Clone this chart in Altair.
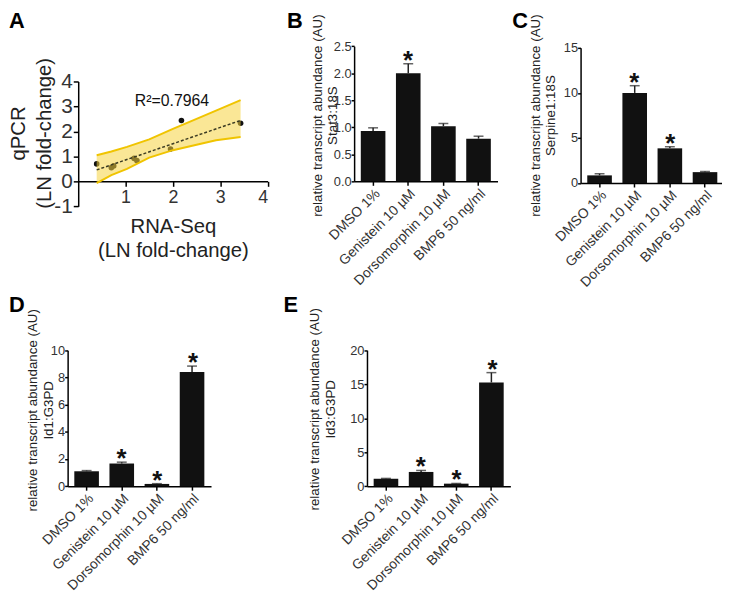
import altair as alt
import pandas as pd

FONT = "Liberation Sans"
INK = "#111111"
LABEL = "#333333"

# ---------------- Panel A data ----------------
rna_seq = [0.39, 0.70, 0.75, 1.18, 1.24, 1.95, 2.18, 3.43]
qpcr = [0.70, 0.55, 0.62, 0.92, 0.83, 1.30, 2.44, 2.33]
fit_x = [0.39, 3.43]
fit_y = [0.46, 2.44]
band_x = [0.39, 0.70, 1.03, 1.50, 2.00, 2.50, 2.91, 3.43]
band_hi = [1.05, 1.20, 1.38, 1.68, 2.10, 2.50, 2.83, 3.25]
band_lo = [-0.07, 0.25, 0.50, 0.95, 1.25, 1.47, 1.65, 1.78]
r2_text = "R\u00b2=0.7964"
a_xticks = [1, 2, 3, 4]
a_yticks = [-1, 0, 1, 2, 3, 4]

# ---------------- Bar panels data ----------------
treatments = ["DMSO 1%", "Genistein 10 \u00b5M", "Dorsomorphin 10 \u00b5M", "BMP6 50 ng/ml"]
panel_letters = ["A", "B", "C", "D", "E"]

stat3 = [0.93, 2.00, 1.02, 0.79]
stat3_err = [0.06, 0.175, 0.05, 0.045]
stat3_sig = [False, True, False, False]
stat3_ticks = [0, 0.5, 1.0, 1.5, 2.0, 2.5]

serpine1 = [0.85, 10.0, 3.85, 1.21]
serpine1_err = [0.18, 0.80, 0.18, 0.07]
serpine1_sig = [False, True, True, False]
serpine1_ticks = [0, 5, 10, 15]

id1 = [1.10, 1.67, 0.17, 8.40]
id1_err = [0.05, 0.10, 0.02, 0.43]
id1_sig = [False, True, True, True]
id1_ticks = [0, 2, 4, 6, 8, 10]

id3 = [1.10, 2.10, 0.38, 15.25]
id3_err = [0.05, 0.22, 0.03, 1.45]
id3_sig = [False, True, True, True]
id3_ticks = [0, 5, 10, 15, 20]

# whole figure is one view; every panel gets its own scales with pixel ranges
W, H = 722, 589

AX = dict(
    grid=False,
    domainColor="#000000",
    domainWidth=1.5,
    tickColor="#000000",
    tickWidth=1.5,
    labelColor=LABEL,
    labelFont=FONT,
    titleFont=FONT,
    titleColor="#222222",
    titleFontWeight="normal",
)

layers = []

# ---------------- Panel A ----------------
pts_df = pd.DataFrame({"x": rna_seq, "y": qpcr})
fit_df = pd.DataFrame({"x": fit_x, "y": fit_y})
band_df = pd.DataFrame({"x": band_x, "lo": band_lo, "hi": band_hi})

A_XR = [71, 262.5]
A_YR = [197.3, 71]
A_XAXIS_Y = 172


def xs_a():
    return alt.Scale(domain=[0, 4], range=A_XR, nice=False, zero=False)


def ys_a():
    return alt.Scale(domain=[-1, 4], range=A_YR, nice=False, zero=False)


xA = alt.X(
    "x:Q", scale=xs_a(),
    axis=alt.Axis(orient="bottom", offset=-(H - A_XAXIS_Y), values=a_xticks,
                  title=["RNA-Seq", "(LN fold-change)"], labelFontSize=18, titleFontSize=20.5,
                  titleLineHeight=24, titleBaseline="alphabetic", titleY=52,
                  tickSize=5, labelPadding=2, **AX),
)
yA = alt.Y(
    "y:Q", scale=ys_a(),
    axis=alt.Axis(orient="left", offset=-A_XR[0], values=a_yticks,
                  labelExpr="replace(datum.label, '\u2212', '-')",
                  title=["qPCR", "(LN fold-change)"], labelFontSize=21, titleFontSize=20.5,
                  titleLineHeight=26, titleBaseline="alphabetic", titleX=-54, titleY=123,
                  tickSize=5, labelPadding=1, **AX),
)

layers.append(alt.Chart(pts_df).mark_circle(size=32, color=INK, opacity=1).encode(x=xA, y=yA))
layers.append(alt.Chart(band_df).mark_area(color="#f5d33f", opacity=0.55).encode(
    x=alt.X("x:Q", scale=xs_a(), axis=None),
    y=alt.Y("lo:Q", scale=ys_a(), axis=None), y2="hi:Q"))
for col in ["hi", "lo"]:
    layers.append(alt.Chart(band_df).mark_line(color="#f0c400", strokeWidth=2).encode(
        x=alt.X("x:Q", scale=xs_a(), axis=None),
        y=alt.Y(col + ":Q", scale=ys_a(), axis=None)))
layers.append(alt.Chart(fit_df).mark_line(color="#3a3a22", strokeWidth=1.5, strokeDash=[3, 2]).encode(
    x=alt.X("x:Q", scale=xs_a(), axis=None), y=alt.Y("y:Q", scale=ys_a(), axis=None)))
layers.append(alt.Chart(pd.DataFrame({"x": [1.98], "y": [3.0], "t": [r2_text]})).mark_text(
    fontSize=16, font=FONT, color="#111111", align="center", baseline="alphabetic"
).encode(x=alt.X("x:Q", scale=xs_a(), axis=None), y=alt.Y("y:Q", scale=ys_a(), axis=None),
         text="t:N"))


# ---------------- Bar panels ----------------
def bar_panel(gene, values, errs, sig, ymax, ticks, fmt, xr, yr, title_x, title_y):
    df = pd.DataFrame({
        "treatment": treatments,
        "value": values,
        "top": [v + e for v, e in zip(values, errs)],
        "sig": sig,
    })

    def xs():
        return alt.Scale(domain=treatments, paddingInner=0.3, paddingOuter=0.19, range=xr)

    def ys():
        return alt.Scale(domain=[0, ymax], nice=False, zero=True, range=yr)

    x = alt.X("treatment:N", sort=treatments, scale=xs(),
              axis=alt.Axis(orient="bottom", offset=-(H - yr[0]), title=None, labelAngle=-45,
                            labelFontSize=14, tickSize=4, labelPadding=1, **AX))
    y = alt.Y("value:Q", scale=ys(),
              axis=alt.Axis(orient="left", offset=-xr[0], values=ticks, format=fmt,
                            title=["relative transcript abundance (AU)", gene],
                            labelFontSize=13, titleFontSize=13.5, titleLineHeight=16,
                            titleBaseline="alphabetic", tickSize=3, labelPadding=0,
                            titleX=title_x, titleY=title_y, **AX))
    base = alt.Chart(df)
    xe = alt.X("treatment:N", sort=treatments, scale=xs(), axis=None)
    out = [
        base.mark_bar(color=INK).encode(x=x, y=y),
        base.mark_rule(color="#222222", strokeWidth=1.5).encode(
            x=xe, y=alt.Y("value:Q", scale=ys(), axis=None), y2="top:Q"),
        base.mark_tick(color="#222222", thickness=1.5, size=10).encode(
            x=xe, y=alt.Y("top:Q", scale=ys(), axis=None)),
        base.transform_filter("datum.sig").mark_text(
            text="*", fontSize=26, fontWeight="bold", font=FONT, color=INK,
            baseline="alphabetic", dy=5
        ).encode(x=xe, y=alt.Y("top:Q", scale=ys(), axis=None)),
    ]
    return out


layers += bar_panel("Stat3:18S", stat3, stat3_err, stat3_sig, 2.5, stat3_ticks, ".1f",
                    [350, 495], [172, 35.3], -33.3, 105)
layers += bar_panel("Serpine1:18S", serpine1, serpine1_err, serpine1_sig, 15, serpine1_ticks, "d",
                    [579, 724], [173.7, 37], -42, 105)
layers += bar_panel("Id1:G3PD", id1, id1_err, id1_sig, 10, id1_ticks, "d",
                    [60.3, 205.3], [480.3, 342.7], -31, 403)
layers += bar_panel("Id3:G3PD", id3, id3_err, id3_sig, 20, id3_ticks, "d",
                    [363, 508], [480.3, 342.7], -49, 402)

# ---------------- Panel letters ----------------
letter_pos = [(1, 17), (282, 16.5), (510, 16.5), (1, 304), (278.7, 304)]
for letter, (lx, ly) in zip(panel_letters, letter_pos):
    layers.append(
        alt.Chart(pd.DataFrame({"letter": [letter]})).mark_text(
            fontSize=22, fontWeight="bold", font=FONT, color="#000000",
            align="left", baseline="alphabetic"
        ).encode(x=alt.value(lx), y=alt.value(ly), text="letter:N")
    )

chart = alt.layer(*layers).resolve_scale(
    x="independent", y="independent"
).resolve_axis(
    x="independent", y="independent"
).properties(
    width=W, height=H, autosize=alt.AutoSizeParams(type="none"),
    padding={"left": 0, "top": 0, "right": 0, "bottom": 0},
).configure(font=FONT).configure_view(stroke=None)

chart.save("out.html", embed_options={"renderer": "svg", "actions": False})
